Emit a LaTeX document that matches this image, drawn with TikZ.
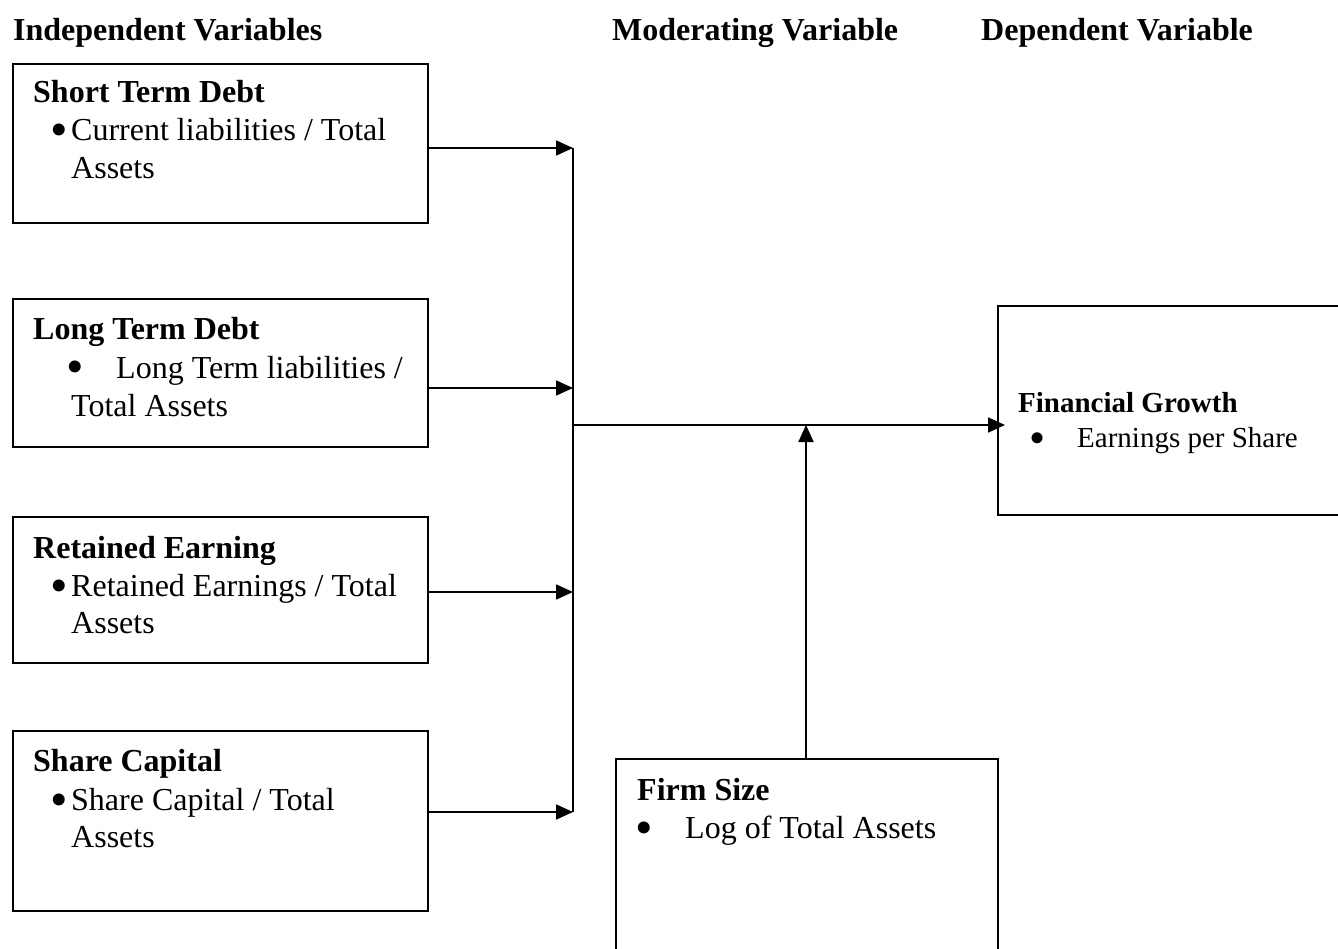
\documentclass[tikz,border=0pt]{standalone}
\usepackage{fontspec}
\setmainfont{Liberation Serif}
\usetikzlibrary{arrows.meta}
\begin{document}
\begin{tikzpicture}[x=1pt,y=-1pt,
  box/.style={draw,line width=1.8pt,inner sep=0pt,anchor=north west},
  txt/.style={anchor=base west,inner sep=0pt,font=\fontsize{32}{38}\selectfont},
  btxt/.style={anchor=base west,inner sep=0pt,font=\fontsize{32}{38}\selectfont\bfseries},
  stxt/.style={anchor=base west,inner sep=0pt,font=\fontsize{29}{35}\selectfont},
  sbtxt/.style={anchor=base west,inner sep=0pt,font=\fontsize{29}{35}\selectfont\bfseries},
  bul/.style={anchor=base west,inner sep=0pt,font=\fontsize{50}{50}\selectfont},
  arr/.style={line width=1.8pt,-{Triangle[length=17pt,width=15pt]}},
  ln/.style={line width=1.8pt}]
\useasboundingbox[fill=white] (0,0) rectangle (1338,949);

% headers
\node[btxt] (h1) at (13,41) {Independent Variables};
\node[btxt] (h2) at (612,41) {Moderating Variable};
\node[btxt] (h3) at (981,41) {Dependent Variable};

% boxes
\node[box,minimum width=415pt,minimum height=159pt] (b1) at (12,63) {};
\node[box,minimum width=415pt,minimum height=148pt] (b2) at (12,298) {};
\node[box,minimum width=415pt,minimum height=146pt] (b3) at (12,516) {};
\node[box,minimum width=415pt,minimum height=180pt] (b4) at (12,730) {};
\node[box,minimum width=420pt,minimum height=209pt] (fg) at (997,305) {};
\node[box,minimum width=382pt,minimum height=252pt] (fs) at (615,758) {};

% box 1
\node[btxt] (t1a) at (33,103) {Short Term Debt};
\node[bul] (t1b) at (50,147) {\textbullet};
\node[txt] (t1c) at (71,141) {Current liabilities / Total};
\node[txt] (t1d) at (71,179) {Assets};

% box 2
\node[btxt] (t2a) at (33,340) {Long Term Debt};
\node[bul] (t2b) at (66,384) {\textbullet};
\node[txt] (t2c) at (116,378) {Long Term liabilities /};
\node[txt] (t2d) at (71,416) {Total Assets};

% box 3
\node[btxt] (t3a) at (33,558) {Retained Earning};
\node[bul] (t3b) at (50,602) {\textbullet};
\node[txt] (t3c) at (71,596) {Retained Earnings / Total};
\node[txt] (t3d) at (71,633) {Assets};

% box 4
\node[btxt] (t4a) at (33,771) {Share Capital};
\node[bul] (t4b) at (50,816) {\textbullet};
\node[txt] (t4c) at (71,810) {Share Capital / Total};
\node[txt] (t4d) at (71,847) {Assets};

% financial growth
\node[sbtxt] (tga) at (1018,412) {Financial Growth};
\node[bul,font=\fontsize{46}{46}\selectfont] (tgb) at (1029,453) {\textbullet};
\node[stxt] (tgc) at (1077,447) {Earnings per Share};

% firm size
\node[btxt] (tfa) at (637,800) {Firm Size};
\node[bul] (tfb) at (635,844) {\textbullet};
\node[txt] (tfc) at (685,838) {Log of Total Assets};

% junction coordinates
\coordinate (j1) at (573,148);
\coordinate (j2) at (573,388);
\coordinate (j3) at (573,592);
\coordinate (j4) at (573,812);
\coordinate (jm) at (573,425);
\coordinate (jf) at (806,425);

\draw[ln] (j1) -- (j4);
\draw[arr] (b1.east |- j1) -- (j1);
\draw[arr] (b2.east |- j2) -- (j2);
\draw[arr] (b3.east |- j3) -- (j3);
\draw[arr] (b4.east |- j4) -- (j4);
\draw[arr] (jm) -- ([xshift=8pt]fg.west |- jm);
\draw[arr] (fs.north -| jf) -- (jf);
\end{tikzpicture}
\end{document}
